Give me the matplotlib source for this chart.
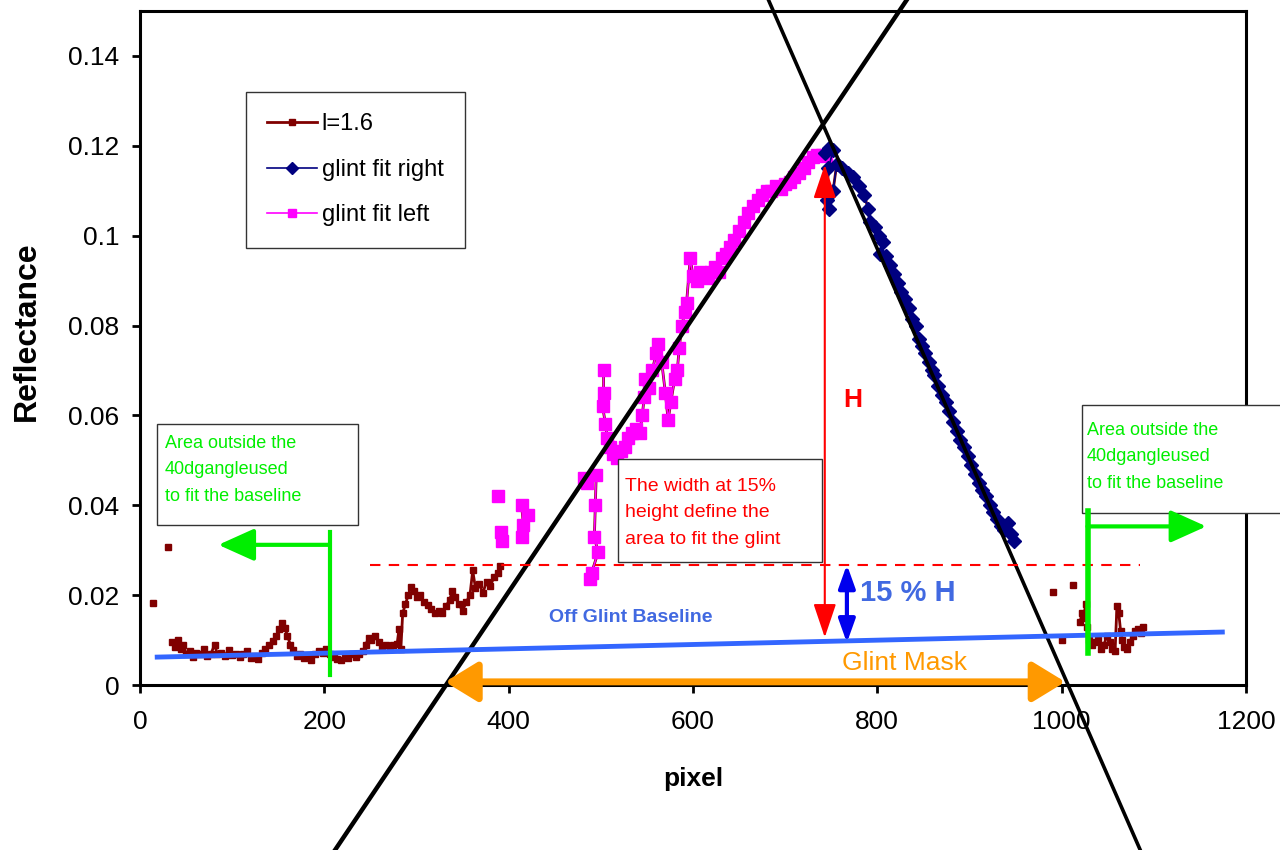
import numpy as np
import matplotlib
matplotlib.use('Agg')
import matplotlib.pyplot as plt
from matplotlib.patches import Rectangle

plt.rcParams['font.family'] = ['Liberation Sans', 'DejaVu Sans']
nan = np.nan

# l=1.6 : points hors glint (gauche)
l16_left_x = [14, nan, 30, nan,
              35, 38, 41, 44, 47, 50, 54, 57, 61, 65, 69, 73, 77, 81, 84, 88, 92, 96,
              100, 104, 108, 112, 116, 120, 124, 128, 132, 136, 140, 144, 148, 151, 154,
              157, 160, 163, 166, 170, 174, 178, 182, 186, 190, 194, 198, 202, 206, 210,
              214, 218, 222, 226, 230, 234, 238, 242, 245, 248, 251, 255, 259, 263, 267,
              271, 275, 279, 281, 283, 285, 288, 291, 294, 297, 300, 304, 308, 312, 316,
              320, 324, 328, 332, 336, 339, 342, 346, 350, 354, 358, 361, 364, 368, 372,
              376, 380, 384, 388, 391]
l16_left_y = [0.0183, nan, 0.0308, nan,
              0.0095, 0.0085, 0.0100, 0.0080, 0.0090, 0.0070, 0.0075, 0.0062, 0.0072,
              0.0068, 0.0080, 0.0065, 0.0070, 0.0090, 0.0068, 0.0072, 0.0065, 0.0078,
              0.0066, 0.0070, 0.0062, 0.0068, 0.0075, 0.0060, 0.0065, 0.0058, 0.0072,
              0.0080, 0.0090, 0.0098, 0.0110, 0.0125, 0.0138, 0.0128, 0.0110, 0.0090,
              0.0078, 0.0065, 0.0070, 0.0060, 0.0062, 0.0055, 0.0068, 0.0075, 0.0072,
              0.0080, 0.0070, 0.0062, 0.0058, 0.0055, 0.0065, 0.0060, 0.0070, 0.0062,
              0.0068, 0.0075, 0.0090, 0.0105, 0.0100, 0.0108, 0.0095, 0.0085, 0.0090,
              0.0080, 0.0088, 0.0092, 0.0125, 0.0080, 0.0160, 0.0180, 0.0200, 0.0218,
              0.0210, 0.0195, 0.0200, 0.0185, 0.0178, 0.0170, 0.0160, 0.0165, 0.0160,
              0.0175, 0.0190, 0.0210, 0.0195, 0.0180, 0.0165, 0.0185, 0.0200, 0.0255,
              0.0215, 0.0225, 0.0205, 0.0230, 0.0220, 0.0240, 0.0250, 0.0265]

# glint fit left (magenta)
left_x = [388, nan, 392, 393, nan, 414, 416, 414, nan, 421, nan,
          482, 485, nan, 495, 494, 493, 497, 490, 488, nan,
          503, 503, 502, 505, 507, 510, 513, 518, 522, 526, 530, 534, 538, 542, 545,
          547, 548, 552, 556, 560, 562, 566, 570, 573, 576, 580, 583, 585, 588, 591,
          593, 597, 600, 604, 608, 612, 616, 620, 624, 628, 632, 636, 640, 645, 650,
          655, 660, 665, 670, 675, 680, 685, 690, 695, 700, 705, 710, 715, 720, 725,
          730, 735, 740, 744]
left_y = [0.0420, nan, 0.0340, 0.0320, nan, 0.0400, 0.0357, 0.0330, nan, 0.0378, nan,
          0.0460, 0.0450, nan, 0.0468, 0.0400, 0.0330, 0.0295, 0.0250, 0.0235, nan,
          0.0700, 0.0650, 0.0620, 0.0580, 0.0550, 0.0530, 0.0515, 0.0505, 0.0520,
          0.0530, 0.0550, 0.0560, 0.0570, 0.0560, 0.0600, 0.0640, 0.0680, 0.0660,
          0.0700, 0.0740, 0.0760, 0.0720, 0.0650, 0.0590, 0.0630, 0.0680, 0.0700,
          0.0750, 0.0800, 0.0830, 0.0850, 0.0950, 0.0910, 0.0900, 0.0920, 0.0915,
          0.0905, 0.0920, 0.0930, 0.0920, 0.0950, 0.0960, 0.0975, 0.0990, 0.1010,
          0.1030, 0.1050, 0.1065, 0.1080, 0.1090, 0.1100, 0.1100, 0.1110, 0.1105,
          0.1115, 0.1120, 0.1130, 0.1140, 0.1150, 0.1165, 0.1175, 0.1180, 0.1180,
          0.1178]

# glint fit right (navy)
right_x = [743, 748, 752, 747, 745, 748, 752, 756, 762, 768, 774, 780, 786, 790, 792,
           797, 802, 806, 803, 809, 814, 818, 822, 826, 830, 834, 838, 842, 845, 848,
           852, 856, 859, 862, 866, 870, 874, 878, 882, 886, 890, 894, 898, 902, 906,
           910, 914, 918, 922, 926, 930, 934, 938, 942, 945, 948]
right_y = [0.1185, 0.1195, 0.1190, 0.1150, 0.1080, 0.1060, 0.1100, 0.1160, 0.1150,
           0.1140, 0.1130, 0.1110, 0.1090, 0.1060, 0.1030, 0.1020, 0.1000, 0.0985,
           0.0960, 0.0955, 0.0935, 0.0915, 0.0895, 0.0875, 0.0860, 0.0840, 0.0815,
           0.0800, 0.0770, 0.0755, 0.0740, 0.0720, 0.0700, 0.0690, 0.0665, 0.0645,
           0.0630, 0.0610, 0.0585, 0.0565, 0.0545, 0.0530, 0.0510, 0.0490, 0.0470,
           0.0450, 0.0435, 0.0420, 0.0400, 0.0385, 0.0370, 0.0355, 0.0345, 0.0360,
           0.0335, 0.0320]

# l=1.6 : points hors glint (droite)
l16_right_x = [nan, 991, nan, 1000, nan, 1012, nan,
               1020, 1022, 1024, 1026, 1028, 1030, 1033, 1036, 1040, 1043, 1046, 1049,
               1052, 1055, 1058, 1060, 1062, 1064, 1066, 1068, 1071, 1074, 1077, 1080,
               1083, 1086, 1088]
l16_right_y = [nan, 0.0207, nan, 0.0100, nan, 0.0223, nan,
               0.0140, 0.0160, 0.0150, 0.0180, 0.0130, 0.0100, 0.0090, 0.0095, 0.0100,
               0.0080, 0.0090, 0.0110, 0.0095, 0.0080, 0.0075, 0.0175, 0.0160, 0.0120,
               0.0100, 0.0085, 0.0080, 0.0095, 0.0110, 0.0120, 0.0125, 0.0115, 0.0130]

# droites ajustees : pente et x ou la droite coupe y=0
fit_left = (3.05e-4, 332)
fit_right = (-4.69e-4, 1007)
baseline_x = [16, 1177]
baseline_y = [0.0062, 0.0118]
level_15 = 0.0268
level_15_x = [250, 1085]

fig = plt.figure(figsize=(12.8, 8.5), dpi=100)
ax = fig.add_axes([0.1094, 0.1941, 0.864, 0.7929])

l16_x = l16_left_x + [nan] + left_x + [nan] + right_x + l16_right_x
l16_y = l16_left_y + [nan] + left_y + [nan] + right_y + l16_right_y
h1, = ax.plot(l16_x, l16_y, color='#800000', lw=2, marker='s', ms=5,
              mec='#800000', label='l=1.6', zorder=2)
h3, = ax.plot(left_x, left_y, color='#FF00FF', lw=1.2, marker='s', ms=8,
              mec='#FF00FF', label='glint fit left', zorder=3)
h2, = ax.plot(right_x, right_y, color='#000080', lw=1.2, marker='D', ms=7.5,
              mec='#000080', label='glint fit right', zorder=3)

# droites de fit, qui debordent du cadre
y_ends = np.array([-0.0368, 0.1527])
for (a, x0), lw in [(fit_left, 3.2), (fit_right, 2.6)]:
    ax.plot(x0 + y_ends / a, y_ends, color='black', lw=lw, clip_on=False, zorder=4)

ax.plot(baseline_x, baseline_y, color='#3366FF', lw=3.5, zorder=4, solid_capstyle='butt')
ax.plot(level_15_x, [level_15, level_15], color='red', lw=1.5, dashes=(5, 4), zorder=4)

# fleches
def fleche(x1, y1, x2, y2, color, lw, style, scale):
    ax.annotate('', xy=(x2, y2), xytext=(x1, y1),
                arrowprops=dict(arrowstyle=style, color=color, lw=lw,
                                mutation_scale=scale, shrinkA=0, shrinkB=0),
                zorder=6, annotation_clip=False)

fleche(743, 0.0106, 743, 0.1158, 'red', 1.5, '<|-|>,head_length=0.95,head_width=0.32', 22)
fleche(767, 0.0094, 767, 0.0268, '#0000EE', 3, '<|-|>,head_length=0.7,head_width=0.25', 20)
fleche(331, 0.0007, 1004, 0.0007, '#FF9900', 5, '<|-|>,head_length=0.9,head_width=0.55', 22)
fleche(206, 0.0312, 85, 0.0312, '#00EE00', 3, '-|>,head_length=1.0,head_width=0.45', 22)
fleche(1028, 0.0353, 1157, 0.0353, '#00EE00', 3, '-|>,head_length=1.0,head_width=0.45', 22)
ax.plot([206, 206], [0.0022, 0.0341], color='#00EE00', lw=3, zorder=6)
ax.plot([1028.5, 1028.5], [0.0071, 0.0388], color='#00EE00', lw=4, zorder=6)

# boites de texte
boites = [(18.4, 0.0357, 218, 0.0223, '#00EE00', 27, 0.0479, 13,
           'Area outside the\n40dgangleused\nto fit the baseline'),
          (1022, 0.0383, 230, 0.0241, '#00EE00', 1027, 0.0508, 13,
           'Area outside the\n40dgangleused\nto fit the baseline'),
          (518.6, 0.0274, 221.4, 0.0228, 'red', 526, 0.0383, 14,
           'The width at 15%\nheight define the\narea to fit the glint')]
for bx, by, bw, bh, col, tx, ty, fs, txt in boites:
    ax.add_patch(Rectangle((bx, by), bw, bh, fc='white', ec='#333333', lw=1,
                           clip_on=False, zorder=5))
    ax.text(tx, ty, txt, color=col, fontsize=fs, ha='left', va='center',
            linespacing=1.75, zorder=6, clip_on=False)

ax.text(763, 0.0635, 'H', color='red', fontsize=19, fontweight='bold', va='center', zorder=6)
ax.text(781, 0.0205, '15 % H', color='#4169E1', fontsize=21, fontweight='bold',
        va='center', zorder=6)
ax.text(532, 0.0150, 'Off Glint Baseline', color='#4169E1', fontsize=14,
        fontweight='bold', ha='center', va='center', zorder=6)
ax.text(830, 0.0048, 'Glint Mask', color='#FF9900', fontsize=19,
        ha='center', va='center', zorder=6)

# axes
ax.set_xlim(0, 1200)
ax.set_ylim(0, 0.15)
ax.set_xticks(range(0, 1201, 200))
ax.set_yticks([0, 0.02, 0.04, 0.06, 0.08, 0.1, 0.12, 0.14])
ax.set_yticklabels(['0', '0.02', '0.04', '0.06', '0.08', '0.1', '0.12', '0.14'])
ax.tick_params(axis='both', direction='out', length=6, width=2, labelsize=19)
ax.tick_params(axis='y', pad=9)
ax.tick_params(axis='x', pad=12)
for sp in ax.spines.values():
    sp.set_linewidth(2.2)
ax.set_xlabel('pixel', fontsize=19, fontweight='bold', labelpad=24)
fig.text(27 / 1280, 1 - 331 / 850, 'Reflectance', rotation=90, fontsize=23,
         fontweight='bold', ha='center', va='center')

leg = ax.legend(handles=[h1, h2, h3], loc='upper left', bbox_to_anchor=(0.0958, 0.880),
                borderaxespad=0, fontsize=17, frameon=True, fancybox=False,
                edgecolor='#333333', framealpha=1, labelspacing=1.0, handlelength=2.1,
                handletextpad=0.2, borderpad=0.9, markerscale=0.8)
leg.get_frame().set_linewidth(1)
leg.set_zorder(7)

plt.savefig('out.png', dpi=100)
